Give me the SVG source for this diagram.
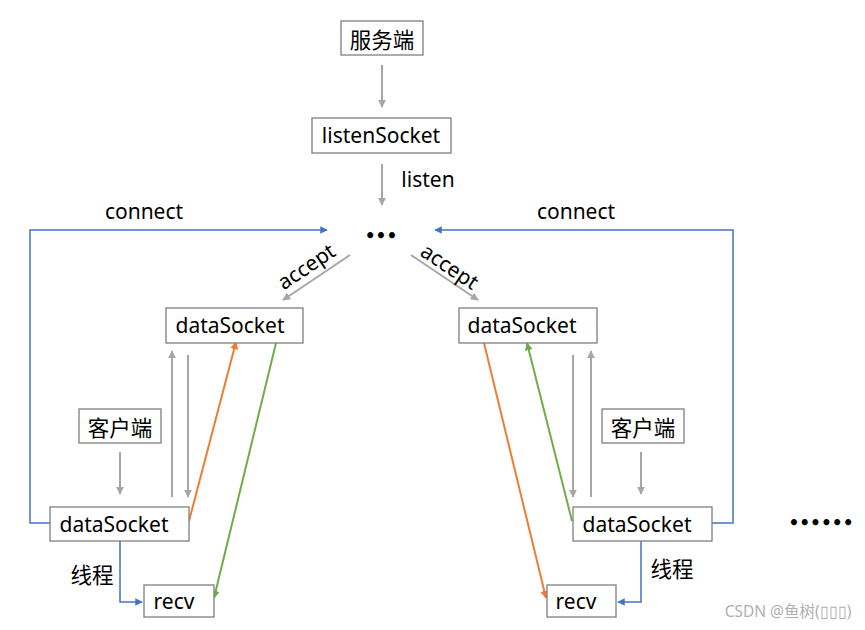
<svg xmlns="http://www.w3.org/2000/svg" width="865" height="630" viewBox="0 0 865 630">
<style>
.box{fill:#fff;stroke:#7f7f7f;stroke-width:1.3}
.t{font-family:"Noto Sans","Noto Sans CJK SC",sans-serif;font-size:21px;fill:#000;text-anchor:middle;dominant-baseline:central}
.c{font-family:"Noto Sans CJK SC","Noto Sans",sans-serif;font-size:21.5px;fill:#000;text-anchor:middle;dominant-baseline:central}
.g{stroke:#a6a6a6;stroke-width:2;fill:none}
.b{stroke:#4472c4;stroke-width:1.5;fill:none}
.o{stroke:#ed7d31;stroke-width:2;fill:none}
.gr{stroke:#70ad47;stroke-width:2;fill:none}
.dot{font-family:"DejaVu Sans",sans-serif;font-weight:bold;fill:#000;text-anchor:middle;dominant-baseline:central}
</style>
<defs>
<marker id="ag" viewBox="0 0 10 10" refX="9" refY="5" markerWidth="4" markerHeight="4" orient="auto" markerUnits="strokeWidth"><path d="M0,0L10,5L0,10z" fill="#a6a6a6"/></marker>
<marker id="ab" viewBox="0 0 10 10" refX="9" refY="5" markerWidth="5" markerHeight="5" orient="auto" markerUnits="strokeWidth"><path d="M0,0L10,5L0,10z" fill="#4472c4"/></marker>
<marker id="ao" viewBox="0 0 10 10" refX="9" refY="5" markerWidth="4" markerHeight="4" orient="auto" markerUnits="strokeWidth"><path d="M0,0L10,5L0,10z" fill="#ed7d31"/></marker>
<marker id="agr" viewBox="0 0 10 10" refX="9" refY="5" markerWidth="4" markerHeight="4" orient="auto" markerUnits="strokeWidth"><path d="M0,0L10,5L0,10z" fill="#70ad47"/></marker>
</defs>
<rect width="865" height="630" fill="#fff"/>

<g id="connectors">
<line class="g" x1="382" y1="65" x2="382" y2="107" marker-end="url(#ag)"/>
<line class="g" x1="382" y1="164" x2="382" y2="205" marker-end="url(#ag)"/>
<path class="b" d="M50,523H30V230H327" marker-end="url(#ab)"/>
<path class="b" d="M712,523H733V230H435" marker-end="url(#ab)"/>
<line class="g" x1="350" y1="255" x2="283" y2="300" marker-end="url(#ag)"/>
<line class="g" x1="411" y1="255" x2="478" y2="300" marker-end="url(#ag)"/>
<line class="g" x1="172" y1="497" x2="172" y2="351" marker-end="url(#ag)"/>
<line class="g" x1="188" y1="355" x2="188" y2="497" marker-end="url(#ag)"/>
<line class="g" x1="120" y1="452" x2="120" y2="494" marker-end="url(#ag)"/>
<line class="o" x1="189" y1="521" x2="236" y2="342" marker-end="url(#ao)"/>
<line class="gr" x1="276" y1="343" x2="214" y2="598" marker-end="url(#agr)"/>
<path class="b" d="M120,541V602H142" marker-end="url(#ab)"/>
<line class="g" x1="573" y1="355" x2="573" y2="497" marker-end="url(#ag)"/>
<line class="g" x1="591" y1="497" x2="591" y2="351" marker-end="url(#ag)"/>
<line class="g" x1="641" y1="452" x2="641" y2="494" marker-end="url(#ag)"/>
<line class="o" x1="484" y1="343" x2="546" y2="598" marker-end="url(#ao)"/>
<line class="gr" x1="572" y1="521" x2="527" y2="343" marker-end="url(#agr)"/>
<path class="b" d="M641,541V602H618" marker-end="url(#ab)"/>
</g>

<g id="labels">
<text class="t" x="428" y="179">listen</text>
<text class="t" x="144" y="211">connect</text>
<text class="t" x="576" y="211">connect</text>
<text class="t" transform="translate(306,266) rotate(-34)">accept</text>
<text class="t" transform="translate(450,266) rotate(34)">accept</text>
<text class="c" x="92" y="573">线程</text>
<text class="c" x="672" y="567">线程</text>
<text class="dot" x="381" y="236" font-size="17">•••</text>
<text class="dot" x="821" y="523" font-size="17">••••••</text>
<text x="788" y="611" font-family="Noto Sans,Noto Sans CJK SC,sans-serif" font-size="15.5" fill="#b0b0b0" text-anchor="middle" dominant-baseline="central">CSDN @鱼树(▯▯▯)</text>
</g>

<g id="server"><rect class="box" x="341" y="21" width="82" height="34"/><text class="c" x="382" y="38">服务端</text></g>
<g id="listenSocket"><rect class="box" x="312" y="118" width="139" height="35"/><text class="t" x="381" y="135">listenSocket</text></g>
<g id="dataSocketL"><rect class="box" x="166" y="308" width="137" height="35"/><text class="t" x="230" y="325">dataSocket</text></g>
<g id="dataSocketR"><rect class="box" x="459" y="308" width="138" height="35"/><text class="t" x="522" y="325">dataSocket</text></g>
<g id="clientL"><rect class="box" x="79" y="409" width="82" height="34"/><text class="c" x="120" y="426">客户端</text></g>
<g id="clientR"><rect class="box" x="602" y="409" width="82" height="34"/><text class="c" x="643" y="426">客户端</text></g>
<g id="clientSocketL"><rect class="box" x="50" y="507" width="139" height="34"/><text class="t" x="114" y="524">dataSocket</text></g>
<g id="clientSocketR"><rect class="box" x="573" y="507" width="139" height="34"/><text class="t" x="637" y="524">dataSocket</text></g>
<g id="recvL"><rect class="box" x="144" y="585" width="70" height="32"/><text class="t" x="174" y="601">recv</text></g>
<g id="recvR"><rect class="box" x="547" y="585" width="69" height="32"/><text class="t" x="576" y="601">recv</text></g>
</svg>
